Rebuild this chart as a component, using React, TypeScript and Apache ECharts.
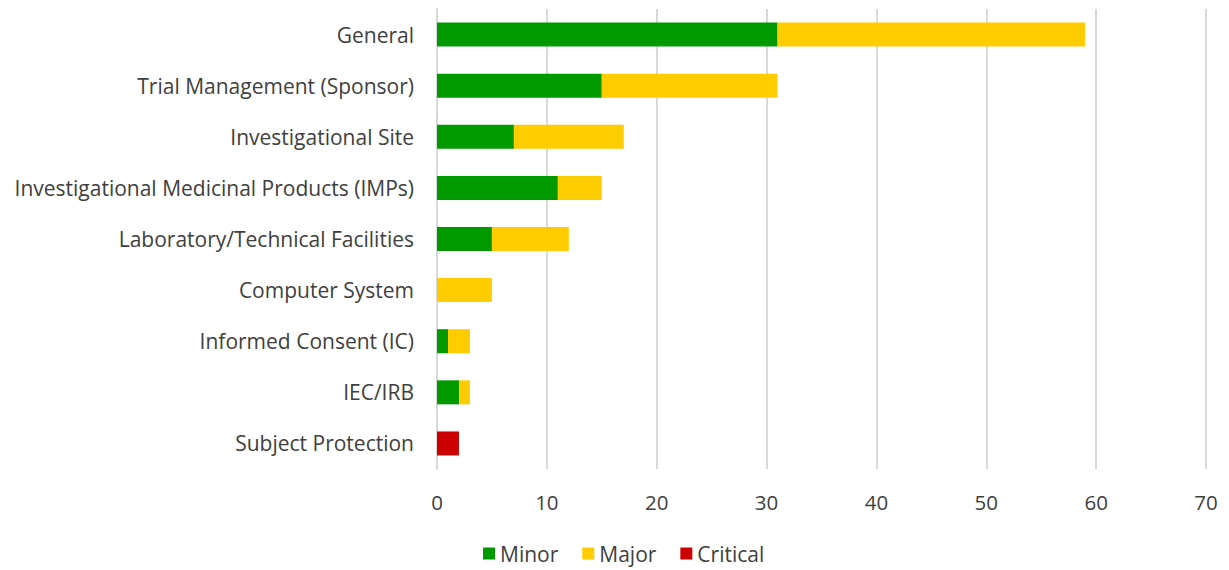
import React, { useEffect, useRef } from "react";
import * as echarts from "echarts";

// Finding categories, listed top to bottom
const categories = [
  "General",
  "Trial Management (Sponsor)",
  "Investigational Site",
  "Investigational Medicinal Products (IMPs)",
  "Laboratory/Technical Facilities",
  "Computer System",
  "Informed Consent (IC)",
  "IEC/IRB",
  "Subject Protection",
];

const minorValues = [31, 15, 7, 11, 5, 0, 1, 2, 0];
const majorValues = [28, 16, 10, 4, 7, 5, 2, 1, 0];
const criticalValues = [0, 0, 0, 0, 0, 0, 0, 0, 2];

const xTicks = { min: 0, max: 70, interval: 10 };

const FONT = "'Open Sans', 'Noto Sans', sans-serif";

export default function App() {
  const ref = useRef<HTMLDivElement>(null);

  useEffect(() => {
    if (!ref.current) return;
    const chart = echarts.init(ref.current, undefined, { renderer: "svg" });
    const rev = <T,>(a: T[]) => [...a].reverse();
    const barWidth = 24;
    chart.setOption({
      animation: false,
      backgroundColor: "#ffffff",
      textStyle: { fontFamily: FONT },
      grid: { left: 437, right: 23, top: 9, height: 460, containLabel: false },
      legend: {
        bottom: 1,
        left: 478,
        itemWidth: 12,
        itemHeight: 12,
        itemGap: 24,
        icon: "rect",
        textStyle: { fontSize: 21, color: "#404040", fontFamily: FONT },
        data: ["Minor", "Major", "Critical"],
      },
      xAxis: {
        type: "value",
        min: xTicks.min,
        max: xTicks.max,
        interval: xTicks.interval,
        axisLine: { show: false },
        axisTick: { show: false },
        axisLabel: { fontSize: 20.5, color: "#404040", margin: 22, fontFamily: FONT },
        splitLine: { lineStyle: { color: "#d9d9d9", width: 2 } },
      },
      yAxis: {
        type: "category",
        data: rev(categories),
        axisLine: { show: true, lineStyle: { color: "#d9d9d9", width: 2 } },
        axisTick: { show: false },
        axisLabel: { fontSize: 21, color: "#404040", margin: 23, fontFamily: FONT },
      },
      series: [
        {
          name: "Minor",
          type: "bar",
          stack: "total",
          barWidth,
          itemStyle: { color: "#009900" },
          data: rev(minorValues),
        },
        {
          name: "Major",
          type: "bar",
          stack: "total",
          barWidth,
          itemStyle: { color: "#ffcc00" },
          data: rev(majorValues),
        },
        {
          name: "Critical",
          type: "bar",
          stack: "total",
          barWidth,
          itemStyle: { color: "#cc0000" },
          data: rev(criticalValues),
        },
      ],
    });
    return () => chart.dispose();
  }, []);

  return (
    <div
      ref={ref}
      style={{ position: "fixed", left: 0, top: 0, width: 1229, height: 570 }}
    />
  );
}
